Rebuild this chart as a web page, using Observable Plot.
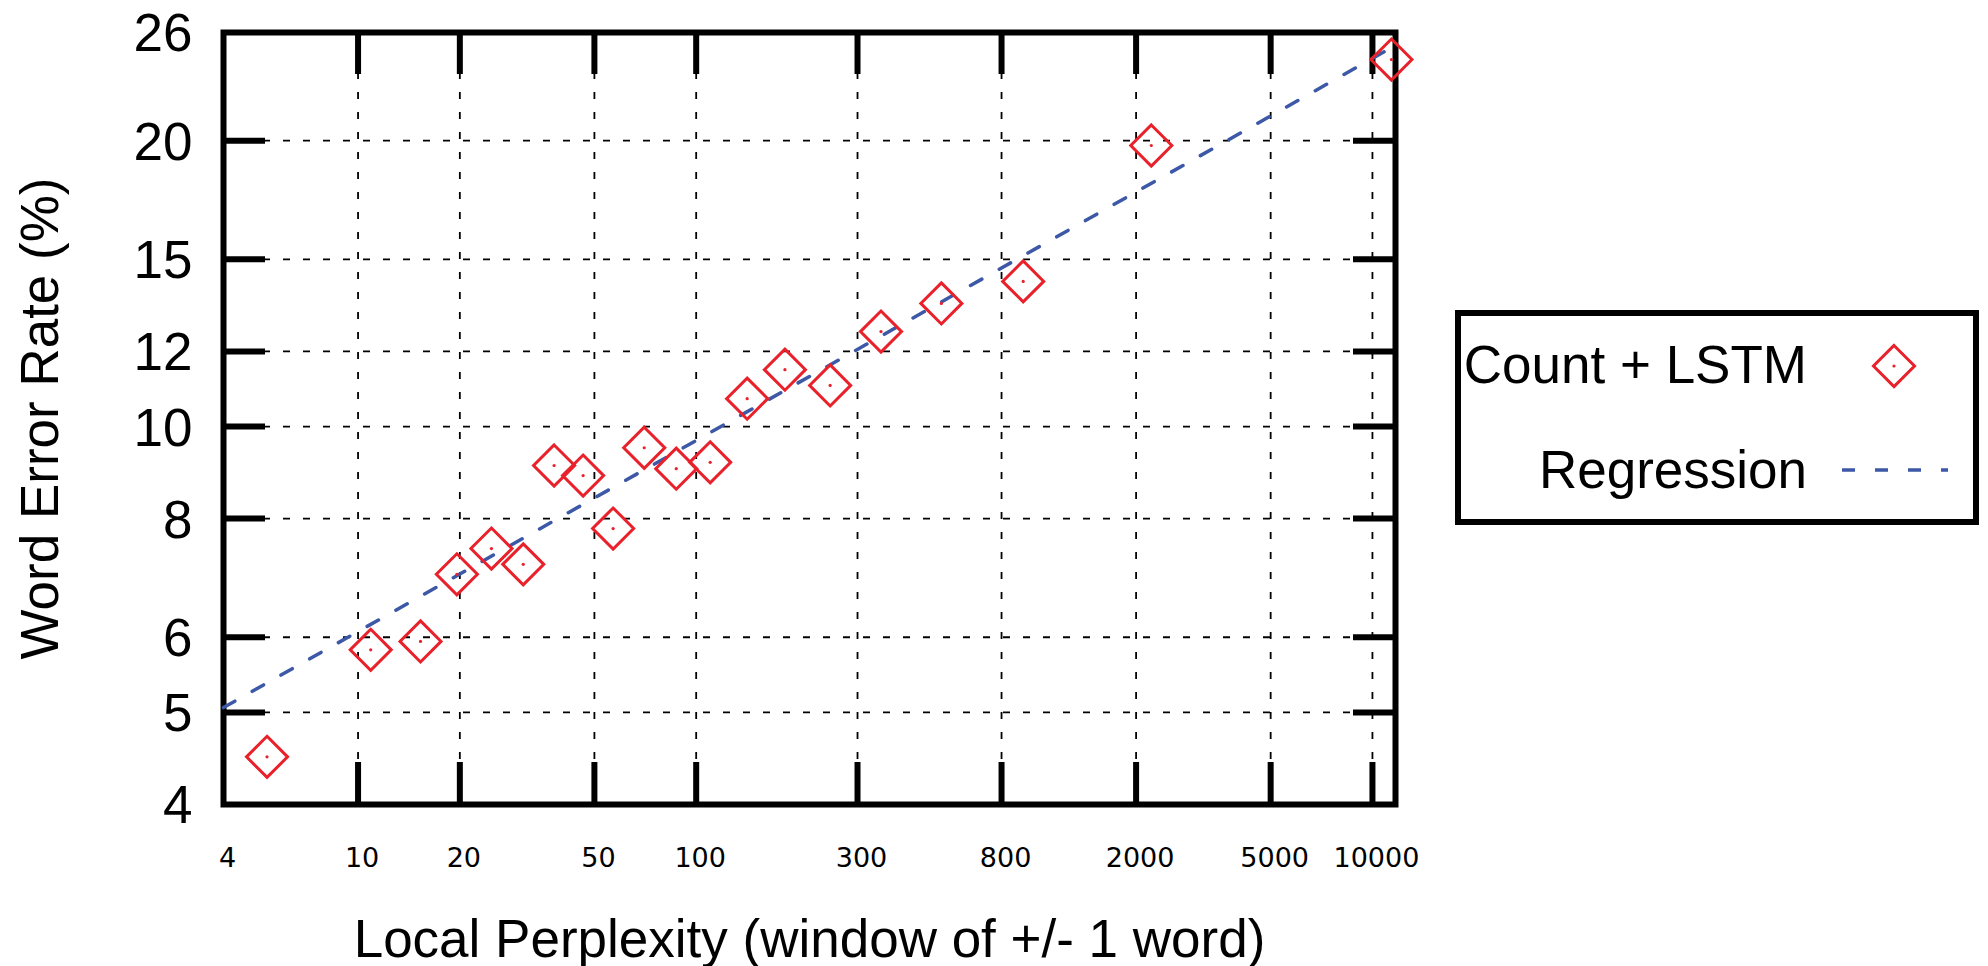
<!DOCTYPE html>
<html>
<head>
<meta charset="utf-8">
<script src="https://cdn.jsdelivr.net/npm/d3@7"></script>
<script src="https://cdn.jsdelivr.net/npm/@observablehq/plot@0.6"></script>
<style>
  html, body { margin: 0; padding: 0; background: white; }
  svg { display: block; }
</style>
</head>
<body>
<div id="chart"></div>
<script>
// ---- data ----
const perplexity = [5.38, 10.9, 15.3, 19.6, 24.8, 30.8, 38.0, 46.3, 56.8, 70.2, 87.3, 110, 141.5, 183, 249, 352, 531, 927, 2218, 11380];
const wer        = [4.49, 5.82, 5.94, 6.99, 7.44, 7.16, 9.10, 8.88, 7.81, 9.50, 9.03, 9.17, 10.70, 11.48, 11.05, 12.59, 13.48, 14.22, 19.77, 24.35];
const regressionX = [4, 11700];
const regressionY = [5.06, 25.2];
const xGrid = [10, 20, 50, 100, 300, 800, 2000, 5000, 10000];
const xTickLabels = [4, 10, 20, 50, 100, 300, 800, 2000, 5000, 10000];
const yGrid = [5, 6, 8, 10, 12, 15, 20];
const yTickLabels = [4, 5, 6, 8, 10, 12, 15, 20, 26];
const xDomain = [4, 11700];
const yDomain = [4, 26];
const seriesNames = ["Count + LSTM", "Regression"];
const xLabel = "Local Perplexity (window of +/- 1 word)";
const yLabel = "Word Error Rate (%)";

// ---- styles ----
const red = "#e8212b";
const blue = "#3c58a6";
const sans = "'Liberation Sans', Arial, Helvetica, sans-serif";
const W = 1988, H = 966;
const mL = 223, mR = 593, mT = 32, mB = 162;
const frameW = W - mL - mR, frameH = H - mT - mB;
const tickLen = 42;

const points = perplexity.map((p, i) => ({x: p, y: wer[i]}));
const regression = regressionX.map((x, i) => ({x, y: regressionY[i]}));

const chart = Plot.plot({
  width: W, height: H,
  marginLeft: mL, marginRight: mR, marginTop: mT, marginBottom: mB,
  x: {type: "log", domain: xDomain, axis: null},
  y: {type: "log", domain: yDomain, axis: null},
  style: {background: "white", overflow: "visible", fontFamily: sans, color: "black"},
  marks: [
    // dashed grid
    Plot.ruleX(xGrid, {x: d => d, stroke: "black", strokeWidth: 1.8, strokeDasharray: "7,13"}),
    Plot.ruleY(yGrid, {y: d => d, stroke: "black", strokeWidth: 1.8, strokeDasharray: "7,13"}),
    // inward major ticks on all four sides
    Plot.ruleX(xGrid, {x: d => d, insetTop: frameH - tickLen, stroke: "black", strokeWidth: 6}),
    Plot.ruleX(xGrid, {x: d => d, insetBottom: frameH - tickLen, stroke: "black", strokeWidth: 6}),
    Plot.ruleY(yGrid, {y: d => d, insetRight: frameW - tickLen, stroke: "black", strokeWidth: 6}),
    Plot.ruleY(yGrid, {y: d => d, insetLeft: frameW - tickLen, stroke: "black", strokeWidth: 6}),
    Plot.frame({stroke: "black", strokeWidth: 6}),
    // regression
    Plot.line(regression, {x: "x", y: "y", stroke: blue, strokeWidth: 3.5, strokeDasharray: "13,20"}),
    // points
    Plot.dot(points, {x: "x", y: "y", symbol: "diamond2", r: 18.5, stroke: red, strokeWidth: 3, fill: "none"}),
    Plot.dot(points, {x: "x", y: "y", r: 1.6, fill: red, stroke: null}),
    // tick labels
    Plot.text(yTickLabels, {y: d => d, text: d => String(d), frameAnchor: "left", dx: -31, dy: 2, textAnchor: "end", lineAnchor: "middle", fontSize: 53, fontFamily: sans, fill: "black"}),
    Plot.text(xTickLabels, {x: d => d, text: d => String(d), frameAnchor: "bottom", dx: 4, dy: 54, textAnchor: "middle", lineAnchor: "middle", fontSize: 27, fontFamily: "'DejaVu Sans', Verdana, sans-serif", fill: "black"}),
    // axis titles
    Plot.text([xLabel], {text: d => d, frameAnchor: "bottom", dy: 136, textAnchor: "middle", lineAnchor: "middle", fontSize: 53, fontFamily: sans, fill: "black"}),
    Plot.text([yLabel], {text: d => d, frameAnchor: "left", rotate: -90, dx: -182, textAnchor: "middle", lineAnchor: "middle", fontSize: 53, fontFamily: sans, fill: "black"})
  ]
});

// ---- legend (to the right of the plot) ----
const svg = d3.select(chart);
const lg = svg.append("g").attr("font-family", sans).attr("font-size", 53).attr("fill", "black");
lg.append("rect")
  .attr("x", 1458).attr("y", 313).attr("width", 518).attr("height", 209)
  .attr("fill", "none").attr("stroke", "black").attr("stroke-width", 6);
lg.append("text").attr("x", 1807).attr("y", 383).attr("text-anchor", "end").text(seriesNames[0]);
lg.append("path")
  .attr("transform", "translate(1894,366)")
  .attr("d", d3.symbol(d3.symbolDiamond2, Math.PI * 18.5 * 18.5)())
  .attr("fill", "none").attr("stroke", red).attr("stroke-width", 3);
lg.append("circle").attr("cx", 1894).attr("cy", 366).attr("r", 1.6).attr("fill", red);
lg.append("text").attr("x", 1807).attr("y", 488).attr("text-anchor", "end").text(seriesNames[1]);
lg.append("line")
  .attr("x1", 1842).attr("x2", 1948).attr("y1", 470).attr("y2", 470)
  .attr("stroke", blue).attr("stroke-width", 3.5).attr("stroke-dasharray", "13,20");

document.getElementById("chart").appendChild(chart);
</script>
</body>
</html>
